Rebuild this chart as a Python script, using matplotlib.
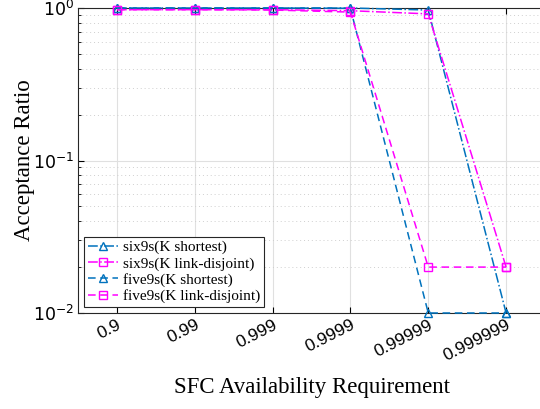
import matplotlib
matplotlib.use("Agg")
import matplotlib.pyplot as plt
import matplotlib.transforms as mtransforms
from matplotlib.ticker import LogLocator, NullFormatter

categories = ["0.9", "0.99", "0.999", "0.9999", "0.99999", "0.999999"]
six9s_shortest = [1.0, 1.0, 1.0, 1.0, 0.97, 0.01]
six9s_disjoint = [0.975, 0.975, 0.975, 0.96, 0.915, 0.02]
five9s_shortest = [1.0, 1.0, 1.0, 0.995, 0.01, 0.01]
five9s_disjoint = [0.975, 0.975, 0.97, 0.94, 0.02, 0.02]
labels = ["six9s(K shortest)", "six9s(K link-disjoint)",
          "five9s(K shortest)", "five9s(K link-disjoint)"]

plt.rcParams["mathtext.fontset"] = "custom"
plt.rcParams["mathtext.rm"] = "Liberation Sans"
plt.rcParams["mathtext.it"] = "Liberation Sans:italic"

fig = plt.figure(figsize=(5.4, 4.09), dpi=100)
ax = fig.add_axes([78/540, 1 - 313/409, (545 - 78)/540, (313 - 8)/409])

x = list(range(1, len(categories) + 1))
blue = "#0072BD"
mag = "#FF00FF"
ms = 6
ax.plot(x, six9s_shortest, linestyle="-.", color=blue, marker="^", mfc="none",
        ms=ms, lw=1.1, label=labels[0], clip_on=False, zorder=3)
ax.plot(x, six9s_disjoint, linestyle="-.", color=mag, marker="s", mfc="none",
        ms=ms, lw=1.1, label=labels[1], clip_on=False, zorder=3)
ax.plot(x, five9s_shortest, linestyle=(0, (5, 3)), color=blue, marker="^", mfc="none",
        ms=ms, lw=1.1, label=labels[2], clip_on=False, zorder=3)
ax.plot(x, five9s_disjoint, linestyle=(0, (5, 3)), color=mag, marker="s", mfc="none",
        ms=ms, lw=1.1, label=labels[3], clip_on=False, zorder=3)

ax.set_yscale("log")
ax.set_ylim(0.01, 1)
ax.set_xlim(0.5, 6.5)
ax.set_xticks(x)
ax.set_xticklabels(categories, family="Liberation Sans", fontsize=12.5)
offset = mtransforms.ScaledTranslation(15/100, -15/100, fig.dpi_scale_trans)
for lbl in ax.get_xticklabels():
    lbl.set_rotation(27)
    lbl.set_ha("right")
    lbl.set_rotation_mode("anchor")
    lbl.set_transform(lbl.get_transform() + offset)

ax.yaxis.set_major_locator(LogLocator(base=10, numticks=5))
ax.yaxis.set_minor_locator(LogLocator(base=10, subs=range(2, 10), numticks=20))
ax.yaxis.set_minor_formatter(NullFormatter())
for lbl in ax.get_yticklabels():
    lbl.set_fontsize(12.5)

ax.tick_params(which="both", direction="in", top=True, right=False)
ax.tick_params(which="major", length=4, width=0.8, pad=3)
ax.tick_params(which="minor", length=2.5, width=0.6)
ax.tick_params(axis="x", which="minor", bottom=False, top=False)

ax.grid(True, which="major", color="#e0e0e0", linestyle="-", lw=0.8)
ax.grid(True, which="minor", axis="y", color="#cfcfcf", linestyle=(0, (1, 3)), lw=0.7)
ax.set_axisbelow(True)
for sp in ax.spines.values():
    sp.set_color("#262626")
    sp.set_linewidth(0.8)
ax.spines["right"].set_visible(False)

ax.set_xlabel("SFC Availability Requirement", family="Liberation Serif", fontsize=16.5)
ax.xaxis.set_label_coords(0.5, (313 - 377) / 305)
ax.set_ylabel("Acceptance Ratio", family="Liberation Serif", fontsize=16.5)
ax.yaxis.set_label_coords((35 - 78) / 467, 0.5)

leg = ax.legend(loc="lower left", prop={"family": "Liberation Serif", "size": 11},
                frameon=True, fancybox=False, edgecolor="#262626", framealpha=1,
                borderpad=0.25, labelspacing=0.15, handlelength=2.0, handletextpad=0.3,
                borderaxespad=0.4, bbox_to_anchor=(0.0, 0.0))
leg.get_frame().set_linewidth(0.8)

fig.savefig("out.png", dpi=100)
